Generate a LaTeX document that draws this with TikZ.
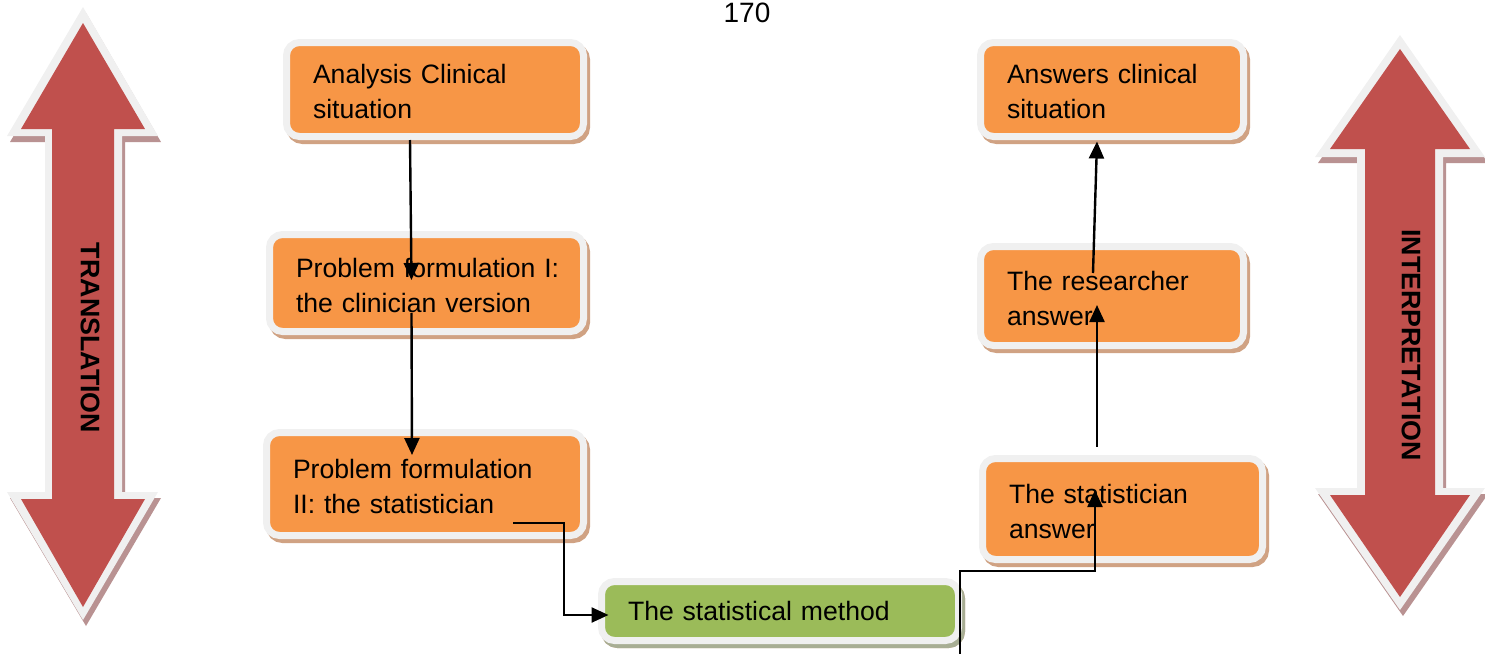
\documentclass[tikz,border=0pt]{standalone}
\usepackage{fontspec}
\setmainfont{Liberation Sans}
\usetikzlibrary{arrows.meta,shadows,calc}
\definecolor{orangeF}{HTML}{F79646}
\definecolor{greenF}{HTML}{9BBB59}
\definecolor{redF}{HTML}{C0504D}
\definecolor{borderG}{HTML}{F0F0F0}
\definecolor{shadowO}{HTML}{D0A283}
\definecolor{shadowG}{HTML}{A8AE94}
\definecolor{shadowR}{HTML}{B99292}
\newcommand\boxfont{\fontsize{13.3pt}{17.5pt}\selectfont}
\newcommand\bigarrowfont{\fontsize{13.4pt}{16pt}\selectfont\bfseries}
\newcommand\pagefont{\fontsize{14pt}{16pt}\selectfont}
\newcommand\firststrut{\rule{0pt}{11.7pt}}
\begin{document}
\begin{tikzpicture}[x=0.5pt,y=-0.5pt,
  box/.style={rectangle, rounded corners=6.5pt, fill=orangeF, draw=borderG,
    line width=3.5pt, align=left, inner xsep=13.25pt, inner ysep=0pt,
    font=\boxfont, text=black,
    drop shadow={shadow xshift=1.5pt, shadow yshift=-2pt, fill=shadowO,
      draw=shadowO, line width=3.5pt, opacity=1}},
  gbox/.style={box, fill=greenF,
    drop shadow={shadow xshift=1.5pt, shadow yshift=-2pt, fill=shadowG,
      draw=shadowG, line width=3.5pt, opacity=1}},
  conn/.style={draw=black, line width=1.2pt, -{Triangle[length=8.5pt,width=7.5pt]}},
  bigtext/.style={rotate=-90, font=\bigarrowfont, inner sep=0pt}]
\useasboundingbox (0,0) rectangle (1485,654);

% page number
\node[font=\pagefont, inner sep=0pt] (pg) at (747,13) {170};

% left double arrow (TRANSLATION)
\fill[shadowR, shift={(3,6)}] (83,7) -- (158,136) -- (122,136) -- (122,492) -- (158,492) -- (83,620) -- (7,492) -- (45,492) -- (45,136) -- (7,136) -- cycle;
\fill[borderG] (83,7) -- (158,136) -- (122,136) -- (122,492) -- (158,492) -- (83,620) -- (7,492) -- (45,492) -- (45,136) -- (7,136) -- cycle;
\fill[redF] (83,23) -- (145,129) -- (114,129) -- (114,499) -- (145,499) -- (83,607) -- (21,499) -- (52,499) -- (52,129) -- (21,129) -- cycle;
\node[bigtext] (tl) at (90,338) {TRANSLATION};

% right double arrow (INTERPRETATION)
\fill[shadowR, shift={(3,6)}] (1400,35) -- (1485,157) -- (1443,157) -- (1443,488) -- (1485,488) -- (1400,610) -- (1315,488) -- (1357,488) -- (1357,157) -- (1315,157) -- cycle;
\fill[borderG] (1400,35) -- (1485,157) -- (1443,157) -- (1443,488) -- (1485,488) -- (1400,610) -- (1315,488) -- (1357,488) -- (1357,157) -- (1315,157) -- cycle;
\fill[redF] (1400,49) -- (1470,149) -- (1435,149) -- (1435,495) -- (1470,495) -- (1400,597) -- (1330,495) -- (1365,495) -- (1365,149) -- (1330,149) -- cycle;
\node[bigtext] (ti) at (1411,345) {INTERPRETATION};

% boxes
\node[box, text width=122pt, minimum height=47pt] (b1) at (435,89.5)
  {\firststrut\mbox{Analysis Clinical}\\\mbox{situation}};
\node[box, text width=130.5pt, minimum height=48.5pt] (b2) at (426.5,283)
  {\firststrut\mbox{Problem formulation I:}\\\mbox{the clinician version}};
\node[box, text width=132pt, minimum height=51.5pt] (b3) at (425,484)
  {\firststrut\mbox{Problem formulation}\\\mbox{II: the statistician}};
\node[gbox, text width=152pt, minimum height=29.5pt] (g) at (780,611)
  {\mbox{The statistical method}};
\node[box, text width=105pt, minimum height=47pt] (b4) at (1112,89.5)
  {\firststrut\mbox{Answers clinical}\\\mbox{situation}};
\node[box, text width=105pt, minimum height=49.5pt] (b5) at (1112,296)
  {\firststrut\mbox{The researcher}\\\mbox{answer}};
\node[box, text width=113.5pt, minimum height=50.5pt] (b6) at (1122.5,509)
  {\firststrut\mbox{The statistician}\\\mbox{answer}};

% connectors
\coordinate (c4s) at (960,654);
\draw[conn] ($(b1.south)+(-25,0)$) -- ($(b2.center)+(-15,-3)$);
\draw[conn] ($(b2.center)+(-15,30)$) -- ($(b3.center)+(-13,-29)$);
\draw[conn] ($(b3.center)+(88,39)$) -- ++(51,0) |- ($(g.west)+(10.5,4)$);
\draw[conn] (c4s) -- ++(0,-83) -| ($(b6.center)+(-27.5,-19)$);
\draw[conn] ($(b6.north)+(-25.5,-8.5)$) -- ($(b5.center)+(-15,9)$);
\draw[conn] ($(b5.center)+(-19,-23)$) -- ($(b4.south)+(-15,1.5)$);
\end{tikzpicture}
\end{document}
